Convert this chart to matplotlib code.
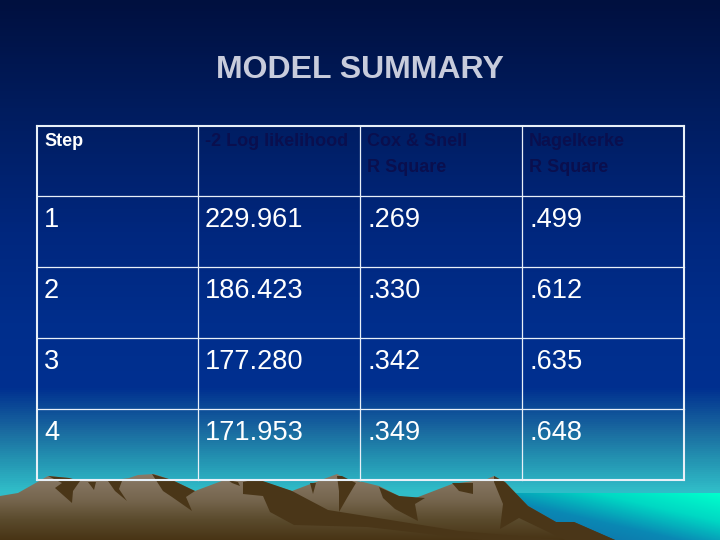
import numpy as np
import matplotlib
matplotlib.use('Agg')
import matplotlib.pyplot as plt
from matplotlib.patches import Polygon
from matplotlib.colors import LinearSegmentedColormap

plt.rcParams['font.family'] = ['Liberation Sans', 'DejaVu Sans']

title = 'MODEL SUMMARY'
headers = ['Step', '-2 Log likelihood', 'Cox & Snell\nR Square', 'Nagelkerke\nR Square']
steps = ['1', '2', '3', '4']
log_lik = ['229.961', '186.423', '177.280', '171.953']
cox_snell = ['.269', '.330', '.342', '.349']
nagelkerke = ['.499', '.612', '.635', '.648']

col_edges = [37, 198, 360, 522, 684]
row_edges = [126, 196, 267, 338, 409, 480]

# mountain outline, (x, y) in pixels
mountain = [(0,496),(18,493),(48,476),(69,478),(80,481),(108,481),(129,478),(138,475),
            (154,474),(172,480),(195,491),(227,479),(255,479),(292,491),(337,474),(349,480),
            (363,482),(379,486),(399,496),(413,499),(452,484),(487,479),(494,476),(505,482),
            (528,506),(556,522),(574,522),(615,540),(0,540)]
shadows = [
    [(48,476),(69,478),(80,481),(73,491),(72,503),(55,488),(62,483)],
    [(88,482),(96,482),(94,490)],
    [(108,481),(122,481),(119,489),(127,501),(115,491)],
    [(152,474),(172,480),(195,491),(186,497),(192,511),(172,497),(163,491)],
    [(243,482),(257,479),(292,491),(328,510),(459,531),(565,540),(482,540),(367,527),
     (294,525),(270,512),(263,496),(243,494)],
    [(228,480),(238,482),(240,486),(232,483)],
    [(310,483),(316,483),(313,494)],
    [(337,476),(342,476),(356,483),(347,498),(339,512),(339,491)],
    [(379,487),(399,496),(425,498),(415,504),(418,521),(395,509),(383,498)],
    [(452,483),(473,483),(473,494),(459,491)],
    [(494,476),(505,482),(528,506),(556,522),(574,522),(615,540),(565,540),(519,518),
     (500,529),(503,504),(494,482)],
]

fig = plt.figure(figsize=(7.2, 5.4), dpi=100)
ax = fig.add_axes([0, 0, 1, 1])
ax.axis('off')

# background
bg_cmap = LinearSegmentedColormap.from_list('bg', [
    (0.0, '#00103f'), (0.2, '#001c5e'), (0.43, '#00277e'), (0.6, '#002e8c'), (0.72, '#003090'),
    (0.80, '#1a6aa0'), (0.86, '#2598b4'), (0.91, '#30bcc8'), (1.0, '#30bcc8')])
ax.imshow(np.linspace(0, 1, 540).reshape(-1, 1), extent=[0, 720, 540, 0],
          cmap=bg_cmap, aspect='auto', zorder=0)

# sea in the lower right
sea_cmap = LinearSegmentedColormap.from_list('sea', ['#00ffcc', '#00d8c4', '#0a88b4', '#1070a8'])
yy, xx = np.mgrid[493:540:48j, 500:720:221j]
sea = np.clip((yy - 493) / 47 * 0.55 + (720 - xx) / 220 * 0.6, 0, 1)
ax.imshow(sea, extent=[500, 720, 540, 493], cmap=sea_cmap, vmin=0, vmax=1,
          aspect='auto', zorder=1)

# mountains
rock_cmap = LinearSegmentedColormap.from_list('rock', [
    (0.0, '#8a7a68'), (0.4, '#75654d'), (0.7, '#5a4a2c'), (1.0, '#483415')])
rock = ax.imshow(np.linspace(0, 1, 128).reshape(-1, 1), extent=[0, 720, 540, 474],
                 cmap=rock_cmap, aspect='auto', zorder=2)
rock.set_clip_path(Polygon(mountain, closed=True, transform=ax.transData))
for s in shadows:
    ax.add_patch(Polygon(s, closed=True, fc='#4a3618', ec='none', zorder=3))
ax.set_xlim(0, 720)
ax.set_ylim(540, 0)

# table grid
for i, x in enumerate(col_edges):
    lw = 1.5 if i in (0, len(col_edges) - 1) else 0.9
    ax.plot([x, x], [row_edges[0], row_edges[-1]], color='#e8f0f8', lw=lw, zorder=4)
for i, y in enumerate(row_edges):
    lw = 1.5 if i in (0, len(row_edges) - 1) else 0.9
    ax.plot([col_edges[0], col_edges[-1]], [y, y], color='#e8f0f8', lw=lw, zorder=4)

ax.text(360, 70, title, color='#c8ccdc', fontsize=23, fontweight='bold',
        ha='center', va='center', zorder=5)

# header row, first one white the rest dark
for j, h in enumerate(headers):
    for k, line in enumerate(h.split('\n')):
        ax.text(col_edges[j] + 7, 142 + k * 26, line,
                color='white' if j == 0 else '#0a0f4e',
                fontsize=13, fontweight='bold', ha='left', va='center', zorder=5)

# body rows
columns = [steps, log_lik, cox_snell, nagelkerke]
for j, col in enumerate(columns):
    for i, val in enumerate(col):
        ax.text(col_edges[j] + 7, row_edges[i + 1] + 24, val, color='white',
                fontsize=19.6, ha='left', va='center', zorder=5)

fig.savefig('out.png', dpi=100)
